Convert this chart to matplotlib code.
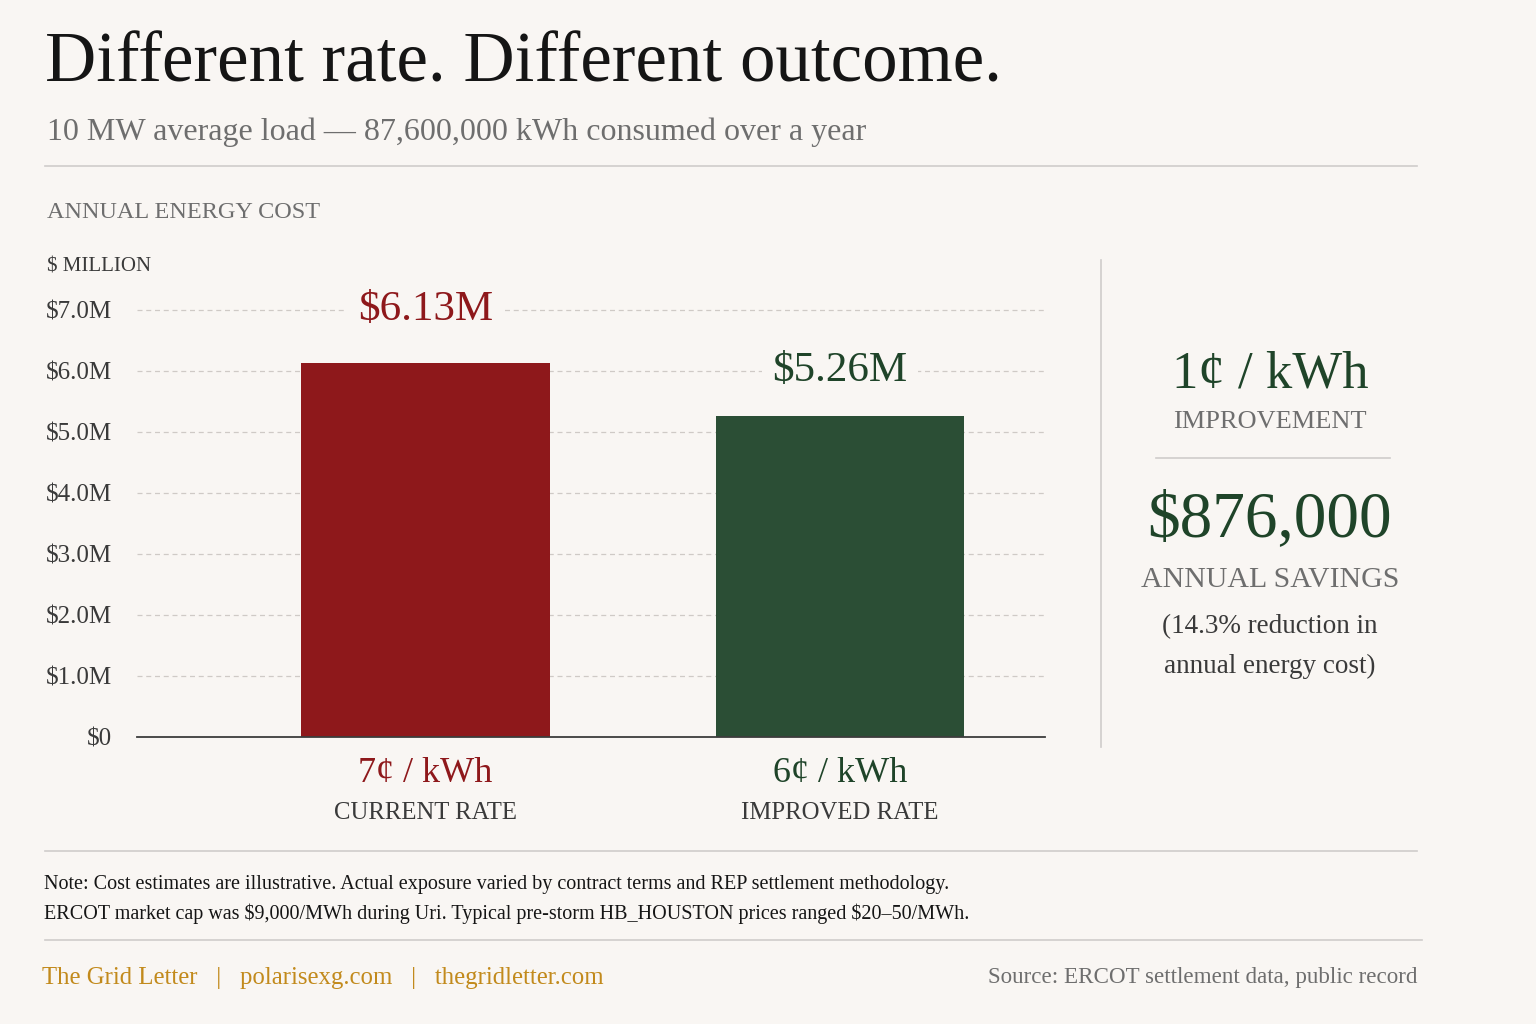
import matplotlib
matplotlib.use("Agg")
import matplotlib.pyplot as plt
from matplotlib.lines import Line2D

# data
rates = ["7¢ / kWh", "6¢ / kWh"]
rate_names = ["CURRENT RATE", "IMPROVED RATE"]
annual_cost = [6.13, 5.26]          # $ million
cost_labels = ["$6.13M", "$5.26M"]
y_ticks = [0, 1, 2, 3, 4, 5, 6, 7]
y_tick_labels = ["$0", "$1.0M", "$2.0M", "$3.0M", "$4.0M", "$5.0M", "$6.0M", "$7.0M"]

BG = "#f9f6f3"
RED = "#8e181b"
GREEN = "#2b4e35"
GREEN_TXT = "#1f4429"
INK = "#151515"
GRAY = "#6e6e6e"
DARK = "#3a3a3a"
GOLD = "#c28a1c"
RULE = "#cfcccb"
bar_colors = [RED, GREEN]
text_colors = [RED, GREEN_TXT]

plt.rcParams["font.family"] = ["Liberation Serif", "DejaVu Serif"]

W, H = 1536, 1024
fig = plt.figure(figsize=(W / 100, H / 100), dpi=100, facecolor=BG)


def fx(x):
    return x / W


def fy(y):
    return 1 - y / H


def ftext(x, y, s, **kw):
    kw.setdefault("va", "center")
    return fig.text(fx(x), fy(y), s, **kw)


def hrule(x0, x1, y, color=RULE, lw=1.2):
    fig.add_artist(Line2D([fx(x0), fx(x1)], [fy(y), fy(y)], color=color, lw=lw,
                          transform=fig.transFigure))


# header
ftext(45, 64, "Different rate. Different outcome.", fontsize=51, color=INK)
ftext(47, 132, "10 MW average load — 87,600,000 kWh consumed over a year",
      fontsize=23, color=GRAY)
hrule(45, 1417, 166)
ftext(47, 213, "ANNUAL ENERGY COST", fontsize=17.5, color=GRAY)
ftext(47, 267, "$ MILLION", fontsize=15, color=DARK)

# bar chart
ax_left, ax_right, y0_px = 137, 1045, 737
px_per_unit = 61.0
ymax = 7.6
ax_top = y0_px - ymax * px_per_unit
ax = fig.add_axes([fx(ax_left), fy(y0_px), fx(ax_right - ax_left), (y0_px - ax_top) / H])
ax.set_facecolor("none")
xpos = [0, 1]
ax.bar(xpos, annual_cost, width=0.6, color=bar_colors, zorder=2)
ax.set_xlim(-0.696, 1.495)
ax.set_ylim(0, ymax)
for t in y_ticks[1:]:
    ax.axhline(t, color="#cfcac6", lw=0.9, ls=(0, (4, 3)), zorder=1)
ax.set_yticks(y_ticks)
ax.set_yticklabels(y_tick_labels, fontsize=18, color=DARK)
ax.tick_params(axis="y", length=0, pad=18)
ax.set_xticks([])
for s in ["top", "right", "left"]:
    ax.spines[s].set_visible(False)
ax.spines["bottom"].set_color("#3c3c3c")
ax.spines["bottom"].set_linewidth(1.3)

label_y = [7.0, 6.0]
for x, lab, ly, c in zip(xpos, cost_labels, label_y, text_colors):
    ax.text(x, ly, lab, ha="center", va="center", fontsize=31, color=c, zorder=3,
            bbox=dict(boxstyle="square,pad=0.25", fc=BG, ec="none"))

for x, rate, name, c in zip(xpos, rates, rate_names, text_colors):
    ax.annotate(rate, (x, 0), xytext=(0, -36), textcoords="offset pixels",
                ha="center", va="center", fontsize=26, color=c, annotation_clip=False)
    ax.annotate(name, (x, 0), xytext=(0, -76), textcoords="offset pixels",
                ha="center", va="center", fontsize=17.8, color=DARK, annotation_clip=False)

# side panel
fig.add_artist(Line2D([fx(1101), fx(1101)], [fy(260), fy(747)], color=RULE, lw=1.2,
                      transform=fig.transFigure))
cx = 1270
ftext(cx, 374, "1¢ / kWh", fontsize=38, color=GREEN_TXT, ha="center")
ftext(cx, 422, "IMPROVEMENT", fontsize=19, color=GRAY, ha="center")
hrule(1156, 1390, 458)
ftext(cx, 520, "$876,000", fontsize=47, color=GREEN_TXT, ha="center")
ftext(cx, 580, "ANNUAL SAVINGS", fontsize=21.5, color=GRAY, ha="center")
ftext(cx, 627, "(14.3% reduction in", fontsize=19.5, color=DARK, ha="center")
ftext(cx, 666, "annual energy cost)", fontsize=19.5, color=DARK, ha="center")

# notes
hrule(45, 1417, 851)
ftext(44, 884, "Note: Cost estimates are illustrative. Actual exposure varied by contract terms "
      "and REP settlement methodology.", fontsize=14.5, color=INK)
ftext(44, 914, "ERCOT market cap was \\$9,000/MWh during Uri. Typical pre-storm HB_HOUSTON "
      "prices ranged \\$20–50/MWh.", fontsize=14.5, color=INK)
hrule(45, 1422, 940)

# footer
ftext(42, 978, "The Grid Letter   |   polarisexg.com   |   thegridletter.com",
      fontsize=17.8, color=GOLD)
ftext(1418, 978, "Source: ERCOT settlement data, public record", fontsize=16.6, color=GRAY,
      ha="right")

fig.savefig("out.png", dpi=100, facecolor=BG)
